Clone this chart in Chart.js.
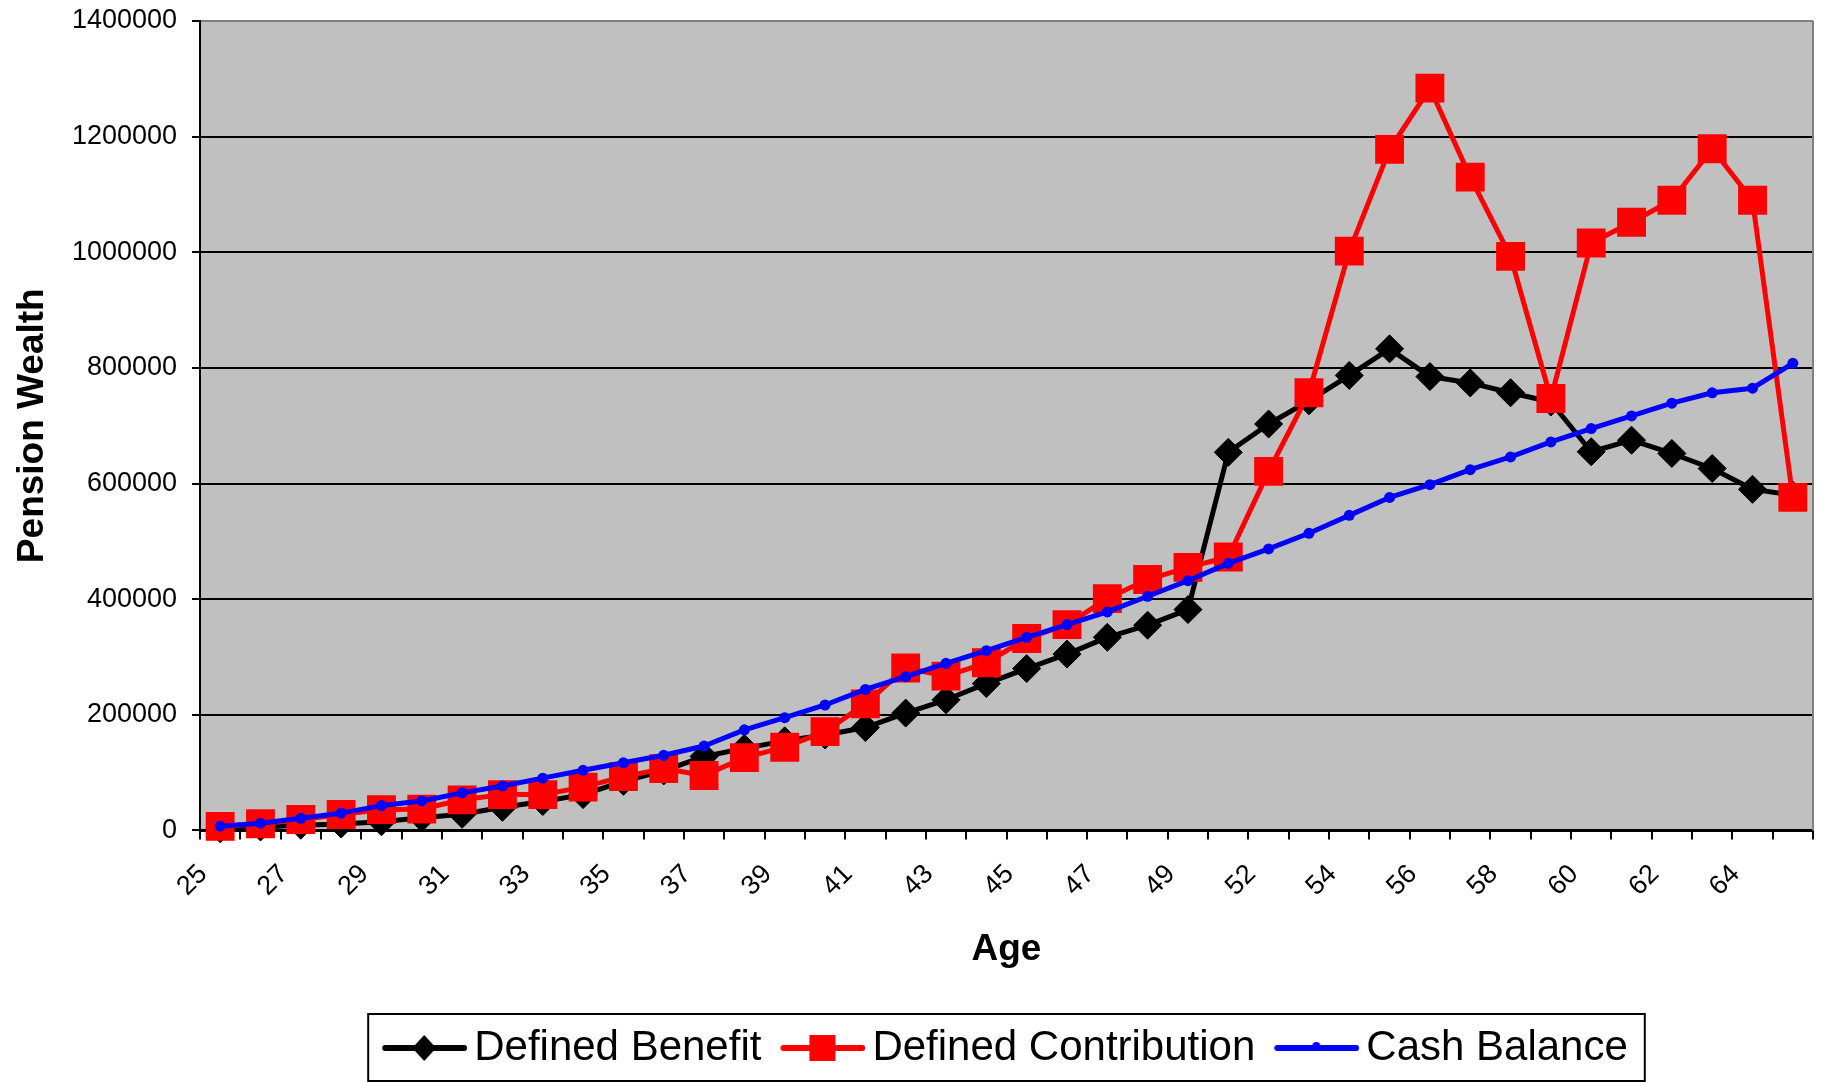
<!DOCTYPE html>
<html>
<head>
<meta charset="utf-8">
<title>Pension Wealth by Age</title>
<script src="https://cdn.jsdelivr.net/npm/chart.js@4/dist/chart.umd.min.js"></script>
<style>
  html, body { margin: 0; padding: 0; background: #fff; }
  #wrap { width: 1828px; height: 1082px; }
</style>
</head>
<body>
<div id="wrap"><canvas id="pensionChart" width="1828" height="1082"></canvas></div>
<script>
// ages on the x axis (no 51 in the series)
const ages = [25, 26, 27, 28, 29, 30, 31, 32, 33, 34, 35, 36, 37, 38, 39, 40, 41, 42, 43, 44,
              45, 46, 47, 48, 49, 50, 52, 53, 54, 55, 56, 57, 58, 59, 60, 61, 62, 63, 64, 65];

const definedBenefit = [3000, 6000, 9000, 11000, 15000, 22000, 28000, 40000, 50000, 62000,
                        85000, 103000, 128000, 142000, 155000, 165000, 178000, 203000, 226000, 254000,
                        280000, 305000, 334000, 355000, 382000, 654000, 703000, 743000, 787000, 833000,
                        785000, 774000, 757000, 741000, 655000, 675000, 652000, 626000, 590000, 580000];

const definedContribution = [7000, 11500, 19000, 27500, 36000, 37000, 53000, 62000, 62000, 75000,
                             93000, 107000, 95000, 126000, 144000, 171000, 219000, 281000, 267000, 290000,
                             332000, 356000, 401000, 434000, 455000, 473000, 621000, 757000, 1002000, 1178000,
                             1284000, 1130000, 993000, 747000, 1016000, 1052000, 1090000, 1179000, 1090000, 576000];

const cashBalance = [7400, 12600, 21000, 30000, 43000, 51000, 65000, 77000, 90500, 104000,
                     117000, 130000, 146000, 174000, 195000, 217000, 244000, 266000, 289000, 311000,
                     334000, 356000, 378000, 405000, 432000, 462000, 487000, 514000, 545000, 576000,
                     598000, 624000, 646000, 672000, 695000, 717000, 739000, 757000, 765000, 808000];

const yTicks = [0, 200000, 400000, 600000, 800000, 1000000, 1200000, 1400000];

const seriesNames = ['Defined Benefit', 'Defined Contribution', 'Cash Balance'];
const seriesColors = ['#000000', '#ff0000', '#0000ff'];

const FONT = "'Liberation Sans', Arial, sans-serif";

// legend swatch = short line with the series marker on it
// (image is wider than the legend box so the line starts left of the item)
function legendSymbol(color, marker) {
  const c = document.createElement('canvas');
  c.width = 99; c.height = 36;
  const g = c.getContext('2d');
  const y = 18, cx = 56;
  g.strokeStyle = color;
  g.fillStyle = color;
  g.lineWidth = 6;
  g.lineCap = 'round';
  g.beginPath(); g.moveTo(17, y); g.lineTo(96, y); g.stroke();
  g.beginPath();
  if (marker === 'diamond') {
    g.moveTo(cx - 12, y); g.lineTo(cx, y - 13); g.lineTo(cx + 12, y); g.lineTo(cx, y + 13);
    g.closePath();
  } else if (marker === 'square') {
    g.rect(cx - 13, y - 13, 26, 26);
  } else {
    g.arc(cx, y - 2, 4, 0, Math.PI * 2);
  }
  g.fill();
  return c;
}
const legendSymbols = [
  legendSymbol(seriesColors[0], 'diamond'),
  legendSymbol(seriesColors[1], 'square'),
  legendSymbol(seriesColors[2], 'dot')
];

function legendFrame(chart) {
  const boxes = chart.legend.legendHitBoxes;
  const first = boxes[0], last = boxes[boxes.length - 1];
  const mid = first.top + first.height / 2;
  return {
    left: first.left - 14,
    right: last.left + last.width + 17,
    top: mid - 34,
    bottom: Math.min(mid + 35, chart.height - 1)
  };
}

const plotFrame = {
  id: 'plotFrame',
  beforeDraw(chart) {
    const { ctx, chartArea: a } = chart;
    ctx.save();
    ctx.fillStyle = '#c0c0c0';
    ctx.fillRect(a.left, a.top, a.right - a.left, a.bottom - a.top);
    ctx.restore();
  },
  beforeDatasetsDraw(chart) {
    const { ctx, chartArea: a } = chart;
    ctx.save();
    ctx.strokeStyle = '#808080';
    ctx.lineWidth = 2;
    ctx.beginPath();
    ctx.moveTo(a.right, a.top);
    ctx.lineTo(a.right, a.bottom);
    ctx.stroke();
    ctx.restore();
  },
  afterUpdate(chart) {
    // centre the framed legend under the plot area instead of the canvas
    const lg = chart.legend;
    if (!lg.legendHitBoxes || !lg.legendHitBoxes.length) return;
    const f = legendFrame(chart);
    const a = chart.chartArea;
    const dx = Math.round((a.left + a.right) / 2 - (f.left + f.right) / 2);
    lg.left += dx;
    lg.right += dx;
    lg.legendHitBoxes.forEach(b => { b.left += dx; });
  },
  afterDraw(chart) {
    if (!chart.legend.legendHitBoxes.length) return;
    const f = legendFrame(chart);
    const { ctx } = chart;
    ctx.save();
    ctx.strokeStyle = '#000';
    ctx.lineWidth = 2;
    ctx.strokeRect(f.left, f.top, f.right - f.left, f.bottom - f.top);
    ctx.restore();
  }
};

const ctx = document.getElementById('pensionChart').getContext('2d');
const pensionChart = new Chart(ctx, {
  type: 'line',
  data: {
    labels: ages,
    datasets: [
      {
        label: seriesNames[0],
        data: definedBenefit,
        borderColor: seriesColors[0],
        backgroundColor: seriesColors[0],
        borderWidth: 5,
        borderJoinStyle: 'round',
        pointStyle: 'rectRot',
        pointRadius: 14,
        pointBorderWidth: 1,
        order: 3,
        clip: false
      },
      {
        label: seriesNames[1],
        data: definedContribution,
        borderColor: seriesColors[1],
        backgroundColor: seriesColors[1],
        borderWidth: 5,
        borderJoinStyle: 'round',
        pointStyle: 'rect',
        pointRadius: 19,
        pointBorderWidth: 2,
        order: 2,
        clip: false
      },
      {
        label: seriesNames[2],
        data: cashBalance,
        borderColor: seriesColors[2],
        backgroundColor: seriesColors[2],
        borderWidth: 5,
        borderJoinStyle: 'round',
        pointStyle: 'circle',
        pointRadius: 5.5,
        pointBorderWidth: 0,
        order: 1,
        clip: false
      }
    ]
  },
  options: {
    responsive: false,
    animation: false,
    devicePixelRatio: 1,
    layout: { autoPadding: false, padding: { left: 7, right: 15, top: 21, bottom: 3 } },
    plugins: {
      tooltip: { enabled: false },
      legend: {
        position: 'bottom',
        labels: {
          usePointStyle: true,
          pointStyleWidth: 71,
          padding: 19,
          color: '#000',
          font: { family: FONT, size: 42 },
          sort: (a, b) => a.datasetIndex - b.datasetIndex,
          generateLabels: chart =>
            Chart.defaults.plugins.legend.labels.generateLabels(chart).map(item =>
              Object.assign(item, { pointStyle: legendSymbols[item.datasetIndex] }))
        }
      }
    },
    scales: {
      x: {
        offset: true,
        afterFit: axis => { axis.paddingLeft = 0; axis.paddingRight = 0; },
        grid: { offset: true, drawOnChartArea: false, color: '#000', lineWidth: 2, tickLength: 9 },
        border: { color: '#000', width: 3 },
        ticks: {
          autoSkip: false,
          minRotation: 45,
          maxRotation: 45,
          padding: 19,
          labelOffset: -17,
          color: '#000',
          font: { family: FONT, size: 27 },
          callback: (v, i) => (i % 2 === 0 ? String(ages[i]) : '')
        },
        title: {
          display: true,
          text: 'Age',
          color: '#000',
          font: { family: FONT, size: 37, weight: 'bold' },
          padding: { top: 6, bottom: 36 }
        }
      },
      y: {
        min: 0,
        max: 1400000,
        afterBuildTicks: axis => { axis.ticks = yTicks.map(v => ({ value: v })); },
        afterFit: axis => { axis.width = 193; axis.paddingTop = 0; axis.paddingBottom = 0; },
        grid: {
          color: c => (c.tick && c.tick.value === 1400000 ? '#808080' : '#000'),
          tickColor: '#000',
          lineWidth: 2,
          tickLength: 8
        },
        border: { color: '#000', width: 2 },
        ticks: {
          padding: 15,
          color: '#000',
          font: { family: FONT, size: 27 },
          callback: v => String(v)
        },
        title: {
          display: true,
          text: 'Pension Wealth',
          color: '#000',
          font: { family: FONT, size: 37, weight: 'bold' },
          padding: { top: 4, bottom: 6 }
        }
      }
    }
  },
  plugins: [plotFrame]
});
</script>
</body>
</html>
